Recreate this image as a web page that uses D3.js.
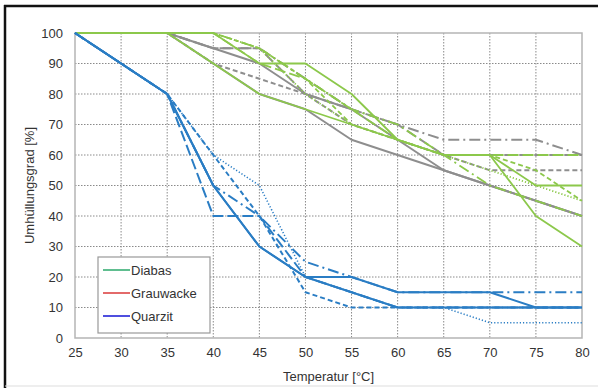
<!DOCTYPE html>
<html><head><meta charset="utf-8">
<script src="https://cdn.jsdelivr.net/npm/d3@7"></script>
<style>
body{margin:0;background:#fff}
svg{display:block}
text{font-family:"Liberation Sans",Arial,sans-serif;fill:#333}
</style>
</head><body>
<svg id="chart" width="598" height="388"></svg>
<script>
// ---- data ----
const temps = [25,30,35,40,45,50,55,60,65,70,75,80];
const xTickLabels = [25,30,35,40,45,50,55,60,65,70,75,80];
const yTickLabels = [0,10,20,30,40,50,60,70,80,90,100];
const legendLabels = ["Diabas","Grauwacke","Quarzit"];

// Grauwacke (grey)
const grauwacke1 = [100,100,100,90,80,75,65,60,55,50,45,40];
const grauwacke2 = [100,100,100,95,90,80,75,65,55,50,45,40];
const grauwacke3 = [100,100,100,95,95,80,75,70,60,60,60,60];
const grauwacke4 = [100,100,100,90,85,80,70,65,60,55,55,55];
const grauwacke5 = [100,100,100,95,95,85,75,70,65,65,65,60];
// Diabas (green)
const diabas1 = [100,100,100,100,90,90,80,65,60,60,50,50];
const diabas2 = [100,100,100,90,80,75,70,65,60,60,40,30];
const diabas3 = [100,100,100,100,95,85,70,65,60,60,55,45];
const diabas4 = [100,100,100,100,90,85,75,65,60,60,60,60];
const diabas5 = [100,100,100,100,95,80,70,65,60,55,50,45];
const diabas6 = [100,100,100,100,95,85,75,70,60,50,45,40];
// Quarzit (blue)
const quarzit1 = [100,90,80,50,30,20,20,15,15,15,10,10];
const quarzit2 = [100,90,80,50,30,20,15,10,10,10,10,10];
const quarzit3 = [100,90,80,40,40,20,15,10,10,10,10,10];
const quarzit4 = [100,90,80,60,40,15,10,10,10,10,10,10];
const quarzit5 = [100,90,80,60,50,20,15,10,10,5,5,5];
const quarzit6 = [100,90,80,50,40,25,20,15,15,15,15,15];

// ---- styles ----
const colGrey = "#8e8e8e", colGreen = "#8cc84b", colBlue = "#2a7dc4";
const DASH = {solid:null, short:"5,3", long:"11,4", dashdot:"11,4,2,4", dot:"1.2,2"};
const series = [
  {v:grauwacke1,c:colGrey,d:"solid",w:2},
  {v:grauwacke2,c:colGrey,d:"solid",w:2},
  {v:grauwacke3,c:colGrey,d:"long",w:2},
  {v:grauwacke4,c:colGrey,d:"short",w:2},
  {v:grauwacke5,c:colGrey,d:"dashdot",w:2},
  {v:diabas1,c:colGreen,d:"solid",w:1.8},
  {v:diabas2,c:colGreen,d:"solid",w:1.8},
  {v:diabas3,c:colGreen,d:"short",w:1.8},
  {v:diabas4,c:colGreen,d:"long",w:1.8},
  {v:diabas5,c:colGreen,d:"dot",w:1.8},
  {v:diabas6,c:colGreen,d:"dashdot",w:1.8},
  {v:quarzit1,c:colBlue,d:"solid",w:2},
  {v:quarzit2,c:colBlue,d:"solid",w:2},
  {v:quarzit3,c:colBlue,d:"long",w:2},
  {v:quarzit4,c:colBlue,d:"short",w:2},
  {v:quarzit5,c:colBlue,d:"dot",w:1.6},
  {v:quarzit6,c:colBlue,d:"dashdot",w:2}
];
const legendColors = ["#4fb784","#e05a5a","#3b3bdc"];

// ---- layout ----
const svg = d3.select("#chart");
const L=75, R=582, T=33, B=338;
const x = d3.scaleLinear().domain([25,80]).range([L,R]);
const y = d3.scaleLinear().domain([0,100]).range([B,T]);

// outer frame
svg.append("line").attr("x1",5).attr("x2",5).attr("y1",5).attr("y2",388).attr("stroke","#111").attr("stroke-width",2.5);
svg.append("line").attr("x1",4).attr("x2",598).attr("y1",6).attr("y2",6).attr("stroke","#111").attr("stroke-width",2.5);
svg.append("line").attr("x1",5).attr("x2",598).attr("y1",386).attr("y2",386).attr("stroke","#ddd").attr("stroke-width",1);

// grid
const grid = svg.append("g");
grid.selectAll(".gx").data(xTickLabels.slice(1,-1)).enter().append("line")
  .attr("x1",d=>x(d)).attr("x2",d=>x(d)).attr("y1",T).attr("y2",B)
  .attr("stroke","#8a8a8a").attr("stroke-width",1).attr("stroke-dasharray","1.5,1.5");
grid.selectAll(".gy").data(yTickLabels.slice(1,-1)).enter().append("line")
  .attr("x1",L).attr("x2",R).attr("y1",d=>y(d)).attr("y2",d=>y(d))
  .attr("stroke","#8a8a8a").attr("stroke-width",1).attr("stroke-dasharray","1.5,1.5");

// plot border
svg.append("rect").attr("x",L).attr("y",T).attr("width",R-L).attr("height",B-T)
  .attr("fill","none").attr("stroke","#b5b5b5").attr("stroke-width",1.5);

// axes
const xAxis = d3.axisBottom(x).tickValues(xTickLabels).tickSize(0).tickPadding(10);
svg.append("g").attr("transform",`translate(0,${B})`).call(xAxis)
  .call(g=>g.select(".domain").remove())
  .selectAll("text").attr("font-size",13).attr("fill","#333").style("font-family","'Liberation Sans',Arial,sans-serif");
const yAxis = d3.axisLeft(y).tickValues(yTickLabels).tickSize(0).tickPadding(12);
svg.append("g").attr("transform",`translate(${L},0)`).call(yAxis)
  .call(g=>g.select(".domain").remove())
  .selectAll("text").attr("font-size",13).attr("fill","#333").style("font-family","'Liberation Sans',Arial,sans-serif");

// titles
svg.append("text").attr("x",(L+R)/2).attr("y",381).attr("text-anchor","middle")
  .attr("font-size",13).text("Temperatur [°C]");
svg.append("text").attr("transform",`translate(34,${(T+B)/2}) rotate(-90)`).attr("text-anchor","middle")
  .attr("font-size",13).text("Umhüllungsgrad [%]");

// lines
const line = d3.line().x((d,i)=>x(temps[i])).y(d=>y(d));
const lg = svg.append("g");
series.forEach(s=>{
  lg.append("path").attr("d",line(s.v)).attr("fill","none")
    .attr("stroke",s.c).attr("stroke-width",s.w)
    .attr("stroke-dasharray",DASH[s.d]).attr("stroke-linejoin","round");
});

// legend
const leg = svg.append("g");
leg.append("rect").attr("x",98).attr("y",257).attr("width",112).attr("height",76)
  .attr("fill","#fff").attr("stroke","#999").attr("stroke-width",1.2);
legendLabels.forEach((t,i)=>{
  const yy = 270 + i*23;
  leg.append("line").attr("x1",103).attr("x2",130).attr("y1",yy).attr("y2",yy)
    .attr("stroke",legendColors[i]).attr("stroke-width",1.8);
  leg.append("text").attr("x",131).attr("y",yy+4.5).attr("font-size",13).text(t);
});
</script>
</body></html>
